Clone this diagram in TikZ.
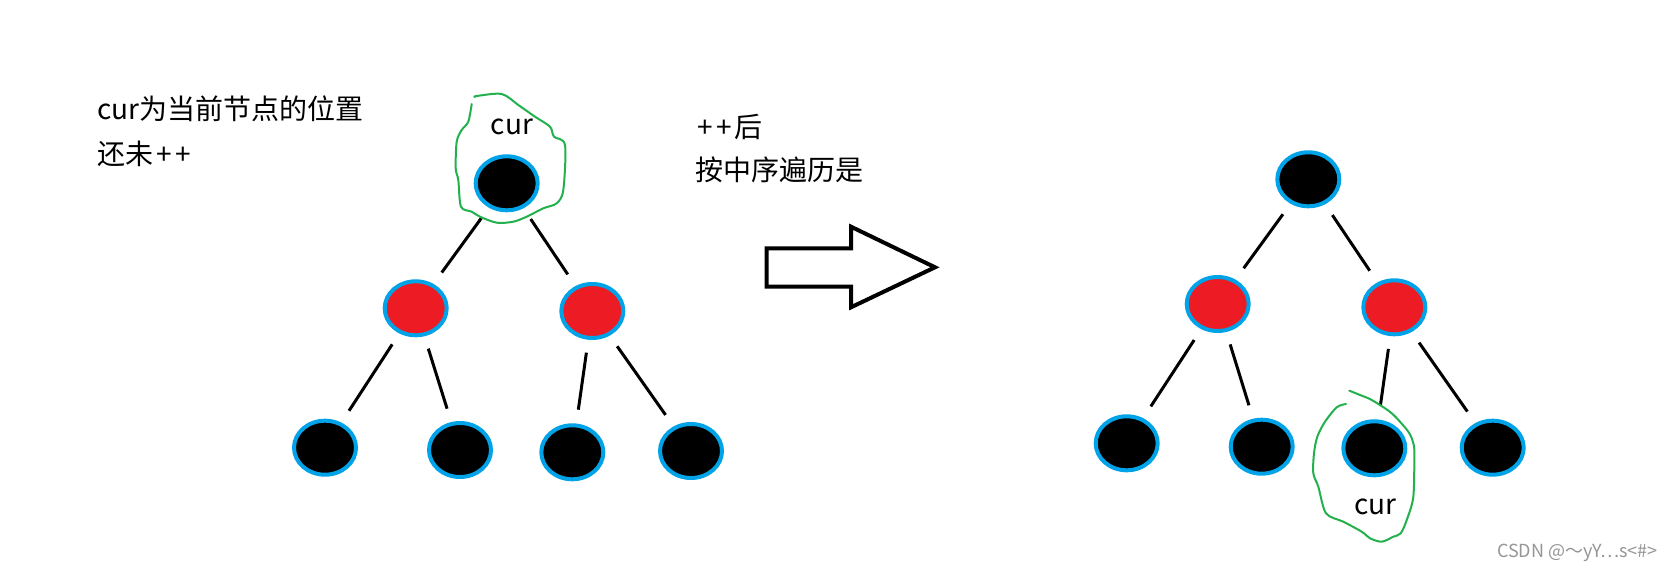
\documentclass[tikz,border=0pt]{standalone}
\usepackage{fontspec}
\setmainfont{Noto Sans CJK SC}
\usetikzlibrary{shapes.geometric}
\definecolor{paintblue}{RGB}{0,162,232}
\definecolor{paintred}{RGB}{237,28,36}
\definecolor{paintgreen}{RGB}{34,177,76}
\definecolor{wmgray}{RGB}{150,150,150}
\tikzset{
  treenode/.style={ellipse, draw=paintblue, line width=2pt, inner sep=0pt,
    minimum width=31pt, minimum height=27pt},
  blacknode/.style={treenode, fill=black},
  rednode/.style={treenode, fill=paintred},
  edge/.style={line width=1.5pt, black, shorten <=6.5pt, shorten >=7pt},
  lbl/.style={font=\fontsize{14pt}{17pt}\selectfont, inner sep=0pt, anchor=base west},
  curlbl/.style={font=\fontsize{14pt}{17pt}\selectfont, inner sep=0pt, anchor=base},
  loop/.style={paintgreen, line width=1pt, line join=round, line cap=round},
  bigarrow/.style={draw=black, line width=2pt, fill=white, line join=miter}
}
\begin{document}
\begin{tikzpicture}[x=0.5pt,y=-0.5pt]
\useasboundingbox[fill=white] (0,0) rectangle (1674,571);

% texts
\node[lbl] (t1) at (97,120) {cur为当前节点的位置};
\node[lbl] (t2) at (97,165) {还未\hspace{1.5pt}+\hspace{2pt}+};
\node[lbl] (t3) at (697,138) {+\hspace{2pt}+\hspace{1pt}后};
\node[lbl] (t4) at (695,181) {按中序遍历是};

% left tree
\node[blacknode] (a) at (506.7,183.3) {};
\node[rednode] (al) at (415.7,308.3) {};
\node[rednode] (ar) at (592.3,311) {};
\node[blacknode] (all) at (325,447.7) {};
\node[blacknode] (alr) at (460,450) {};
\node[blacknode] (arl) at (572.3,452.3) {};
\node[blacknode] (arr) at (691,451) {};
\draw[edge] (a) -- (al);
\draw[edge] (a) -- (ar);
\draw[edge] (al) -- (all);
\draw[edge] (al) -- (alr);
\draw[edge] (ar) -- (arl);
\draw[edge] (ar) -- (arr);
\node[curlbl] (curA) at (512,135) {cur};
\draw[loop] plot[smooth, tension=0.5] coordinates {
 (471.7,104) (468.3,121.7) (461.7,130) (456.7,141.7) (455.7,168.3) (458.3,180)
 (461,206.7) (471.7,211.7) (480,216.7) (496.7,222.7) (513.3,221.7) (526.7,216.7)
 (543.3,208.3) (556.7,203.3) (563.3,190) (565,145) (554,136.7) (550,126.7)
 (535,116.7) (518.3,105) (501.7,94) (476.7,96) (475,97)};

% big arrow
\draw[bigarrow] (766.7,248.3) -- (851,248.3) -- (851,226.7) -- (935,267.3)
  -- (851,307.3) -- (851,286.7) -- (766.7,286.7) -- cycle;

% right tree
\node[blacknode] (b) at (1308.3,179.3) {};
\node[rednode] (bl) at (1217.7,304) {};
\node[rednode] (br) at (1394.3,307.3) {};
\node[blacknode] (bll) at (1126.7,443.3) {};
\node[blacknode] (blr) at (1261.7,446.7) {};
\node[blacknode] (brl) at (1374.3,448.3) {};
\node[blacknode] (brr) at (1492.7,447.7) {};
\draw[edge] (b) -- (bl);
\draw[edge] (b) -- (br);
\draw[edge] (bl) -- (bll);
\draw[edge] (bl) -- (blr);
\draw[edge] (br) -- (brl);
\draw[edge] (br) -- (brr);
\node[curlbl] (curB) at (1375.5,514) {cur};
\draw[loop] plot[smooth, tension=0.5] coordinates {
 (1346,404) (1336.7,407.3) (1325,421.7) (1317.3,436.7) (1314,453.3) (1313.3,473.3)
 (1318.3,486.7) (1326,513.3) (1343.3,521.7) (1361.7,531.7) (1370,538.3) (1381.7,541.7)
 (1393.3,536.7) (1400.7,533.3) (1406.7,520) (1413.3,496.7) (1414.3,453.3) (1413.3,443.3)
 (1408.3,431.7) (1391.7,413.3) (1371.7,400) (1360,395) (1349.3,390.7)};

% watermark
\node[font=\fontsize{9pt}{11pt}\selectfont, text=wmgray, inner sep=0pt, anchor=base east] (wm) at (1658,557) {CSDN @～yY⋯s<\#>};
\end{tikzpicture}
\end{document}
